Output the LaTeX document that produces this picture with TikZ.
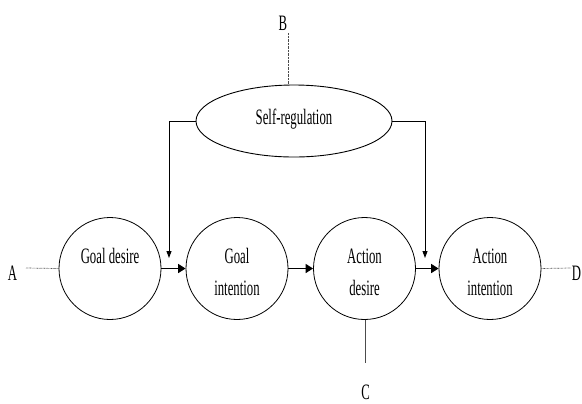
\documentclass[tikz,border=0pt]{standalone}
\usepackage{fontspec}
\setmainfont[FakeStretch=0.58]{Liberation Serif}
\usetikzlibrary{shapes.geometric,arrows.meta}
\begin{document}
\begin{tikzpicture}[x=1bp,y=-1bp,
  stage/.style={draw, line width=0.8bp, circle, minimum size=102bp, inner sep=0pt},
  regbox/.style={draw, line width=0.9bp, ellipse, minimum width=196bp, minimum height=72bp, inner sep=0pt},
  txt/.style={anchor=base, inner sep=0pt, font=\fontsize{22bp}{26bp}\selectfont},
  flow/.style={line width=1.6bp, -{Triangle[length=7.5bp,width=9bp]}},
  ctrl/.style={line width=0.9bp, -{Triangle[length=7bp,width=5bp]}},
  dotline/.style={line width=0.7bp, dash pattern=on 0.7bp off 0.7bp, black!70},
  thinline/.style={line width=0.6bp, black!70}]
\useasboundingbox (0,0) rectangle (582,403);
% stages
\node[stage] (gd) at (110,268.5) {};
\node[stage] (gi) at (237,268.5) {};
\node[stage] (ad) at (364.5,268.5) {};
\node[stage] (ai) at (490,268.5) {};
\node[regbox] (sr) at (294,121) {};
% texts
\node[txt] (tgd) at (110,263) {Goal desire};
\node[txt] (tgi1) at (237,263) {Goal};
\node[txt] (tgi2) at (237,295) {intention};
\node[txt] (tad1) at (364.5,263) {Action};
\node[txt] (tad2) at (364.5,295) {desire};
\node[txt] (tai1) at (490,263) {Action};
\node[txt] (tai2) at (490,295) {intention};
\node[txt] (tsr) at (294,124) {Self-regulation};
% outer labels
\node[txt] (la) at (12.5,280) {A};
\node[txt] (lb) at (283,30) {B};
\node[txt] (lc) at (365.5,399.5) {C};
\node[txt] (ld) at (576.5,280) {D};
% flow arrows
\draw[flow] (gd.east) -- (gi.west);
\draw[flow] (gi.east) -- (ad.west);
\draw[flow] (ad.east) -- (ai.west);
% self-regulation control arrows
\coordinate (cl) at (169,258);
\coordinate (cr) at (425,258);
\draw[ctrl] (sr.west) -| (cl);
\draw[ctrl] (sr.east) -| (cr);
% links to outer labels
\coordinate (pa) at (26,268);
\coordinate (pd) at (571,268);
\coordinate (pb) at (288,33);
\coordinate (pc) at (365.5,363);
\draw[dotline] (pa) -- (gd.west);
\draw[dotline] (ai.east) -- (pd);
\draw[dotline] (pb) -- (pb |- sr.north);
\draw[thinline] (ad.south -| pc) -- (pc);
\end{tikzpicture}
\end{document}
